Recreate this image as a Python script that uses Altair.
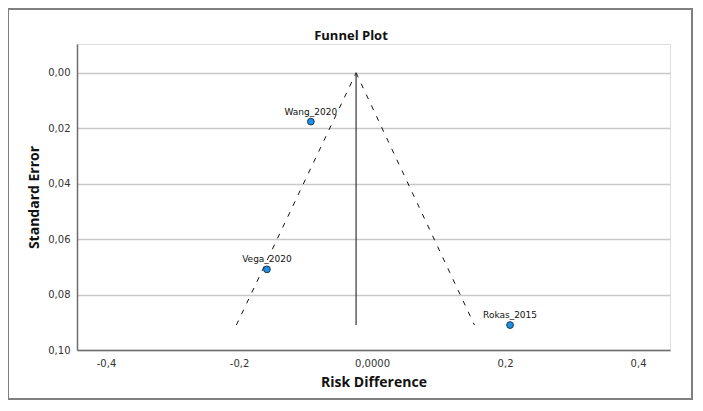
import altair as alt
import pandas as pd

# Study data
studies = ["Wang_2020", "Vega_2020", "Rokas_2015"]
risk_diff = [-0.092, -0.158, 0.2075]
std_err = [0.0176, 0.0709, 0.091]

# Pooled estimate and funnel limits
pooled = -0.024
funnel_se = [0.0, 0.091]
funnel_left = [-0.024, -0.204]
funnel_right = [-0.024, 0.154]

y_ticks = [0.0, 0.02, 0.04, 0.06, 0.08, 0.10]
x_ticks = [-0.4, -0.2, 0.0, 0.2, 0.4]

chart_title = ["Funnel Plot"]

pts = pd.DataFrame({"study": studies, "rd": risk_diff, "se": std_err})
funnel = pd.DataFrame({
    "rd": funnel_left + funnel_right,
    "se": funnel_se + funnel_se,
    "side": ["left"] * 2 + ["right"] * 2,
})
ref = pd.DataFrame({"rd": [pooled], "se0": [funnel_se[0]], "se1": [funnel_se[1]]})
one = pd.DataFrame({"k": [0]})
title_df = pd.DataFrame({"t": chart_title})

LABEL_FONT = "DejaVu Sans"
TITLE_FONT = "Open Sans"

xscale = alt.Scale(domain=[-0.4436, 0.448], nice=False, zero=False)
yscale = alt.Scale(domain=[-0.0104, 0.10], nice=False, zero=False, reverse=True)

xaxis = alt.Axis(
    values=x_ticks, title="Risk Difference", grid=False, ticks=False,
    labelExpr="datum.value == 0 ? '0,0000' : replace(replace(format(datum.value, '.1f'), '.', ','), '\u2212', '-')",
    labelFont=LABEL_FONT, labelFontSize=10, labelColor="#333333", labelPadding=8,
    titleFont=TITLE_FONT, titleFontSize=14, titleFontWeight="bold", titleColor="#111111",
    titlePadding=7, domainColor="#6e6e6e", domainWidth=1.5,
)
yaxis = alt.Axis(
    values=y_ticks, title="Standard Error", grid=True, ticks=False,
    gridColor="#c8c8c8", gridWidth=1.5,
    labelExpr="replace(format(datum.value, '.2f'), '.', ',')",
    labelFont=LABEL_FONT, labelFontSize=10, labelColor="#333333", labelPadding=7,
    titleFont=TITLE_FONT, titleFontSize=14, titleFontWeight="bold", titleColor="#111111",
    titlePadding=6, domainColor="#6e6e6e", domainWidth=1.5,
)

grid_base = alt.Chart(pts).mark_point(opacity=0).encode(
    x=alt.X("rd:Q", scale=xscale, axis=xaxis),
    y=alt.Y("se:Q", scale=yscale, axis=yaxis),
)

funnel_lines = alt.Chart(funnel).mark_line(
    color="#111111", strokeWidth=1, strokeDash=[5, 7]
).encode(
    x=alt.X("rd:Q", scale=xscale),
    y=alt.Y("se:Q", scale=yscale),
    detail="side:N",
)

ref_line = alt.Chart(ref).mark_rule(color="#333333", strokeWidth=1.2).encode(
    x=alt.X("rd:Q", scale=xscale),
    y=alt.Y("se0:Q", scale=yscale),
    y2="se1:Q",
)

points = alt.Chart(pts).mark_circle(
    size=46, color="#1e8fe6", opacity=1, stroke="#1a3550", strokeWidth=1
).encode(
    x=alt.X("rd:Q", scale=xscale),
    y=alt.Y("se:Q", scale=yscale),
)

labels = alt.Chart(pts).mark_text(
    dy=-5, fontSize=9, font=LABEL_FONT, color="#111111", baseline="bottom"
).encode(
    x=alt.X("rd:Q", scale=xscale),
    y=alt.Y("se:Q", scale=yscale),
    text="study:N",
)

frame = alt.Chart(one).mark_rect(
    filled=False, stroke="#7f7f7f", strokeWidth=2
).encode(
    x=alt.value(-69), x2=alt.value(615), y=alt.value(-35), y2=alt.value(355)
)

title_mark = alt.Chart(title_df).mark_text(
    font=TITLE_FONT, fontSize=13, fontWeight="bold", color="#111111",
    align="center", baseline="middle"
).encode(
    x=alt.value(274), y=alt.value(-8), text="t:N"
)

chart = alt.layer(
    grid_base, funnel_lines, ref_line, points, labels, frame, title_mark
).properties(
    width=593,
    height=306,
    autosize=alt.AutoSizeParams(type="none"),
    padding={"left": 69, "top": 36, "right": 24, "bottom": 52},
).configure_view(stroke=None).configure(background="white")

chart.save("out.html", embed_options={"renderer": "svg", "actions": False})
